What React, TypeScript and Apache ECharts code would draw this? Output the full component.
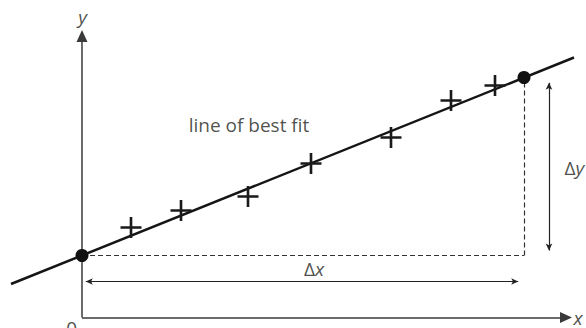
import React, { useEffect, useRef } from "react";
import * as echarts from "echarts";

// Data space: origin at the axes' corner; both axes use the same unit.
const xRange = [-8.2, 50.4];
const yRange = [-1.05, 31.75];

// measured points (+)
const crosses: number[][] = [
  [4.9, 9.0],
  [9.9, 10.7],
  [16.6, 12.1],
  [22.9, 15.4],
  [30.9, 18.0],
  [36.9, 21.7],
  [41.3, 23.2],
];

// line of best fit, drawn between its two ends
const fitLine: number[][] = [
  [-7.1, 3.35],
  [49.2, 26.0],
];

// the two marked points on the fit line (used for Δx and Δy)
const fitPoints: number[][] = [
  [0, 6.2],
  [44.2, 24.0],
];

// axis tips
const xAxisTip = 49.0;
const yAxisTip = 28.75;

// Δx and Δy dimension arrows (tip to tip)
const deltaXArrow = { y: 3.6, from: 0.03, to: 43.97 };
const deltaYArrow = { x: 46.7, from: 6.35, to: 23.82 };

// annotations: text, anchor point, placement
const labelTexts = ["line of best fit", "{n|Δ}{i|x}", "{n|Δ}{i|y}", "{i|y}", "{i|x}", "0"];
const labelAnchors: number[][] = [
  [16.7, 19.3],
  [23.2, 4.85],
  [48.2, 14.95],
  [0.05, 30.1],
  [49.6, 0.0],
  [-1.03, -1.0],
];
const labelPlacement = ["inside", "inside", "right", "inside", "inside", "inside"];

const W = 586;
const H = 328;

export default function App() {
  const ref = useRef<HTMLDivElement>(null);

  useEffect(() => {
    if (!ref.current) return;
    const chart = echarts.init(ref.current, undefined, { renderer: "svg" });
    const pxX = W / (xRange[1] - xRange[0]);
    const pxY = H / (yRange[1] - yRange[0]);

    const axisArrow = [11, 12];
    const dimArrow = [5, 7];
    const font = "'Open Sans', 'Noto Sans', sans-serif";
    const textColor = "#231f20";
    const fontSize = 19;

    const axisStyle = { color: "#3a3a3a", width: 1.5, type: "solid" };
    const dimStyle = { color: "#222", width: 1.2, type: "solid" };
    const dashStyle = { color: "#333", width: 1.2, type: [5, 3] };

    const [p0, p1] = fitPoints;

    const markData: any[] = [
      // y axis
      [
        { coord: [0, 0], symbol: "none", lineStyle: axisStyle },
        { coord: [0, yAxisTip - axisArrow[1] / 2 / pxY], symbol: "triangle", symbolSize: axisArrow },
      ],
      // x axis
      [
        { coord: [0, 0], symbol: "none", lineStyle: axisStyle },
        { coord: [xAxisTip - axisArrow[1] / 2 / pxX, 0], symbol: "triangle", symbolSize: axisArrow },
      ],
      // dashed horizontal
      [
        { coord: [p0[0], p0[1]], symbol: "none", lineStyle: dashStyle },
        { coord: [p1[0], p0[1]], symbol: "none" },
      ],
      // dashed vertical
      [
        { coord: [p1[0], p0[1]], symbol: "none", lineStyle: dashStyle },
        { coord: [p1[0], p1[1]], symbol: "none" },
      ],
      // Δx arrow
      [
        {
          coord: [deltaXArrow.from + dimArrow[1] / 2 / pxX, deltaXArrow.y],
          symbol: "arrow",
          symbolSize: dimArrow,
          lineStyle: dimStyle,
        },
        {
          coord: [deltaXArrow.to - dimArrow[1] / 2 / pxX, deltaXArrow.y],
          symbol: "arrow",
          symbolSize: dimArrow,
        },
      ],
      // Δy arrow
      [
        {
          coord: [deltaYArrow.x, deltaYArrow.from + dimArrow[1] / 2 / pxY],
          symbol: "arrow",
          symbolSize: dimArrow,
          lineStyle: dimStyle,
        },
        {
          coord: [deltaYArrow.x, deltaYArrow.to - dimArrow[1] / 2 / pxY],
          symbol: "arrow",
          symbolSize: dimArrow,
        },
      ],
    ];

    const rich = {
      n: { fontFamily: font, fontSize, color: textColor },
      i: { fontFamily: font, fontSize, fontStyle: "italic", color: textColor },
    };

    chart.setOption({
      animation: false,
      backgroundColor: "#ffffff",
      grid: { left: 0, right: 0, top: 0, bottom: 0, containLabel: false },
      xAxis: { type: "value", min: xRange[0], max: xRange[1], show: false },
      yAxis: { type: "value", min: yRange[0], max: yRange[1], show: false },
      series: [
        {
          type: "line",
          data: fitLine,
          symbol: "none",
          silent: true,
          z: 3,
          lineStyle: { color: "#151515", width: 2.5 },
          markLine: {
            silent: true,
            animation: false,
            label: { show: false },
            emphasis: { disabled: true },
            z: 2,
            data: markData,
          },
        },
        {
          type: "scatter",
          data: crosses,
          symbol: "path://M8.75,0H11.25V8.75H20V11.25H11.25V20H8.75V11.25H0V8.75H8.75Z",
          symbolSize: 21,
          silent: true,
          z: 4,
          itemStyle: { color: "#1a1a1a", opacity: 1 },
        },
        {
          type: "scatter",
          data: fitPoints,
          symbol: "circle",
          symbolSize: 13,
          silent: true,
          z: 5,
          itemStyle: { color: "#111", opacity: 1 },
        },
        {
          type: "scatter",
          silent: true,
          clip: false,
          z: 6,
          symbolSize: 1,
          itemStyle: { color: "rgba(0,0,0,0)" },
          data: labelTexts.map((t, i) => ({
            value: labelAnchors[i],
            label: {
              show: true,
              position: labelPlacement[i],
              distance: 0,
              formatter: t,
              fontFamily: font,
              fontSize,
              color: textColor,
              rich,
            },
          })),
        },
      ],
    });

    return () => chart.dispose();
  }, []);

  return (
    <div
      ref={ref}
      style={{ position: "fixed", left: 0, top: 0, width: W, height: H, background: "#fff" }}
    />
  );
}
